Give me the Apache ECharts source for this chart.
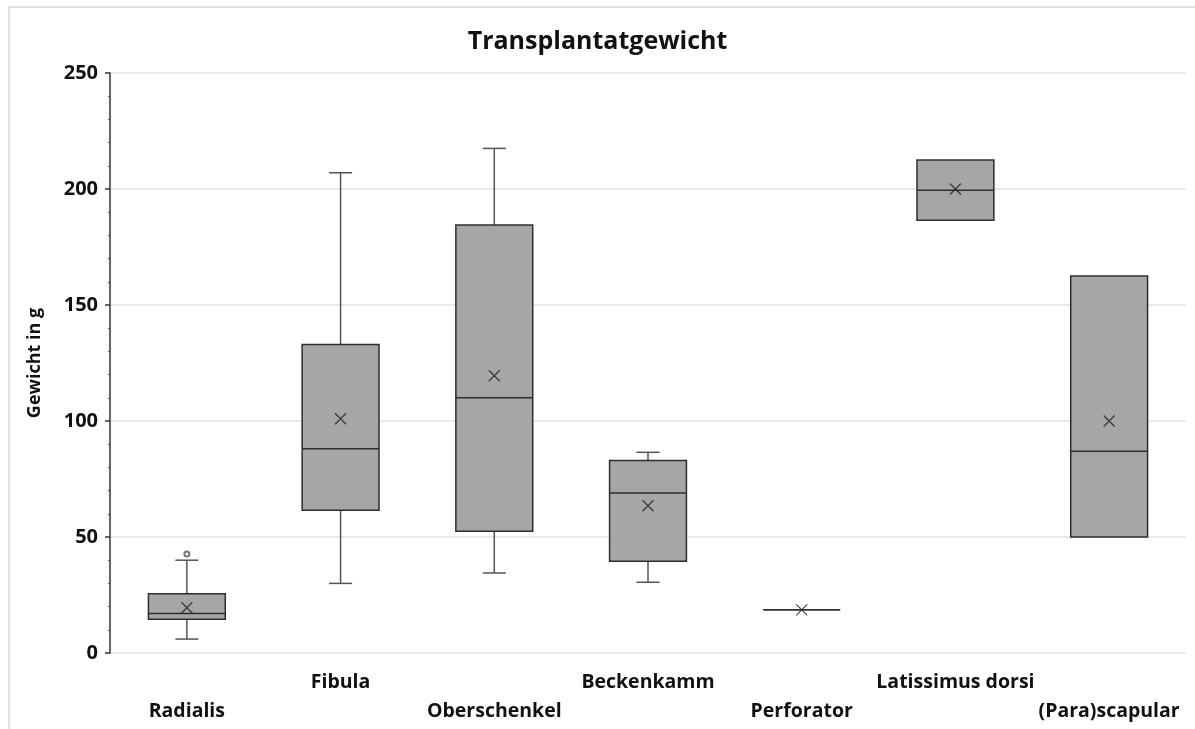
<!DOCTYPE html>
<html>
<head>
<meta charset="utf-8">
<script src="https://cdn.jsdelivr.net/npm/echarts@6/dist/echarts.min.js"></script>
<style>
  html, body { margin: 0; padding: 0; background: #fff; }
  #chart { width: 1195px; height: 729px; }
</style>
</head>
<body>
<div id="chart"></div>
<script>
// Transplantatgewicht – box plot values
const categories = ['Radialis', 'Fibula', 'Oberschenkel', 'Beckenkamm', 'Perforator', 'Latissimus dorsi', '(Para)scapular'];
const minVals    = [6,    30,   34.5,  30.5, 18.6, 186.5, 50];
const q1Vals     = [14.5, 61.5, 52.5,  39.5, 18.6, 186.5, 50];
const medianVals = [17,   88,   110,   69,   18.6, 199.5, 87];
const q3Vals     = [25.5, 133,  184.5, 83,   18.6, 212.5, 162.5];
const maxVals    = [40,   207,  217.5, 86.5, 18.6, 212.5, 162.5];
const meanVals   = [19.5, 101,  119.5, 63.5, 18.6, 200,   100];
const outlierCat = [0];
const outlierVal = [42.7];

const boxData = categories.map((c, i) => [i, minVals[i], q1Vals[i], medianVals[i], q3Vals[i], maxVals[i]]);
const meanData = categories.map((c, i) => [i, meanVals[i]]);
const outlierData = outlierCat.map((c, i) => [c, outlierVal[i]]);

const boldFont = '"Open Sans", "DejaVu Sans", sans-serif';

const myChart = echarts.init(document.getElementById('chart'));
const option = {
  animation: false,
  title: {
    text: 'Transplantatgewicht',
    left: 'center',
    top: 24,
    textStyle: { fontFamily: boldFont, fontWeight: 'bold', fontSize: 25, color: '#111' }
  },
  graphic: [{
    type: 'rect',
    shape: { x: 9, y: 7, width: 1200, height: 740 },
    style: { fill: 'none', stroke: '#d9d9d9', lineWidth: 1.5 },
    silent: true
  }],
  grid: { left: 110, right: 9, top: 73, bottom: 76 },
  xAxis: {
    type: 'category',
    data: categories,
    axisLine: { show: false },
    axisTick: { show: false },
    splitLine: { show: false },
    axisLabel: {
      interval: 0,
      margin: 15,
      fontFamily: boldFont,
      fontWeight: 'bold',
      fontSize: 19.5,
      lineHeight: 29,
      color: '#111',
      formatter: (v, i) => (i % 2 === 0 ? '\n' + v : v)
    }
  },
  yAxis: {
    type: 'value',
    min: 0,
    max: 250,
    interval: 50,
    name: 'Gewicht in g',
    nameLocation: 'middle',
    nameGap: 66,
    nameTextStyle: { fontFamily: boldFont, fontWeight: 'bold', fontSize: 18, color: '#111' },
    axisLine: { show: true, lineStyle: { color: '#333', width: 1.5 } },
    axisTick: { show: true, length: 5, lineStyle: { color: '#333', width: 1.5 } },
    minorTick: { show: true, splitNumber: 5, length: 2, lineStyle: { color: '#555', width: 1 } },
    splitLine: { show: true, lineStyle: { color: '#e2e2e2', width: 1.5 } },
    axisLabel: { margin: 12, fontFamily: boldFont, fontWeight: 'bold', fontSize: 20, color: '#111' }
  },
  series: [
    {
      name: 'box',
      type: 'custom',
      data: boxData,
      renderItem: function (params, api) {
        const i = api.value(0);
        const pMin = api.coord([i, api.value(1)]);
        const pQ1 = api.coord([i, api.value(2)]);
        const pMed = api.coord([i, api.value(3)]);
        const pQ3 = api.coord([i, api.value(4)]);
        const pMax = api.coord([i, api.value(5)]);
        const cx = pMed[0];
        const bw = api.size([1, 0])[0] * 0.5;
        const cap = bw * 0.3;
        const wStyle = { stroke: '#555', lineWidth: 1.5 };
        const children = [];
        if (pMax[1] < pQ3[1]) {
          children.push({ type: 'line', shape: { x1: cx, y1: pQ3[1], x2: cx, y2: pMax[1] }, style: wStyle });
          children.push({ type: 'line', shape: { x1: cx - cap / 2, y1: pMax[1], x2: cx + cap / 2, y2: pMax[1] }, style: wStyle });
        }
        if (pMin[1] > pQ1[1]) {
          children.push({ type: 'line', shape: { x1: cx, y1: pQ1[1], x2: cx, y2: pMin[1] }, style: wStyle });
          children.push({ type: 'line', shape: { x1: cx - cap / 2, y1: pMin[1], x2: cx + cap / 2, y2: pMin[1] }, style: wStyle });
        }
        children.push({
          type: 'rect',
          shape: { x: cx - bw / 2, y: pQ3[1], width: bw, height: pQ1[1] - pQ3[1] },
          style: { fill: '#a6a6a6', stroke: '#2e2e2e', lineWidth: 1.5 }
        });
        children.push({
          type: 'line',
          shape: { x1: cx - bw / 2, y1: pMed[1], x2: cx + bw / 2, y2: pMed[1] },
          style: { stroke: '#2e2e2e', lineWidth: 1.5 }
        });
        return { type: 'group', children: children };
      },
      z: 2
    },
    {
      name: 'Mittelwert',
      type: 'scatter',
      data: meanData,
      symbol: 'path://M0,0L10,10M10,0L0,10',
      symbolSize: 11,
      itemStyle: { color: 'none', borderColor: '#222', borderWidth: 1.3 },
      z: 3
    },
    {
      name: 'Ausreißer',
      type: 'scatter',
      data: outlierData,
      symbol: 'emptyCircle',
      symbolSize: 5,
      itemStyle: { color: '#555', borderColor: '#555', borderWidth: 1.3 },
      z: 3
    }
  ]
};
myChart.setOption(option);
</script>
</body>
</html>
